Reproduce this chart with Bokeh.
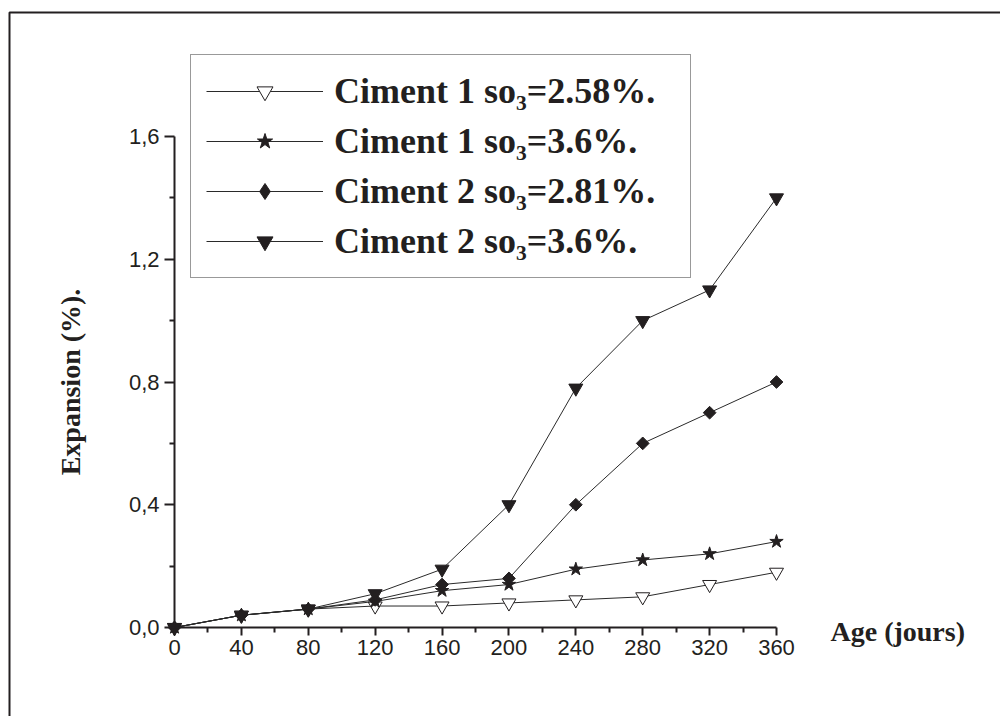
import numpy as np
from bokeh.plotting import figure
from bokeh.models import (Range1d, FixedTicker, Legend, LegendItem, Label,
                          BoxAnnotation)
from bokeh.embed import file_html
from bokeh.resources import INLINE

# ---- data ----
ages = [0, 40, 80, 120, 160, 200, 240, 280, 320, 360]
ciment1_so3_258 = [0.0, 0.04, 0.06, 0.07, 0.07, 0.08, 0.09, 0.10, 0.14, 0.18]
ciment1_so3_36 = [0.0, 0.04, 0.06, 0.085, 0.12, 0.14, 0.19, 0.22, 0.24, 0.28]
ciment2_so3_281 = [0.0, 0.04, 0.06, 0.09, 0.14, 0.16, 0.40, 0.60, 0.70, 0.80]
ciment2_so3_36 = [0.0, 0.04, 0.06, 0.11, 0.19, 0.40, 0.78, 1.00, 1.10, 1.40]

series_labels = ["Ciment 1 so\u2083=2.58%.", "Ciment 1 so\u2083=3.6%.",
                 "Ciment 2 so\u2083=2.81%.", "Ciment 2 so\u2083=3.6%."]

x_ticks = [0, 40, 80, 120, 160, 200, 240, 280, 320, 360]
x_minor = [20, 60, 100, 140, 180, 220, 260, 300, 340]
y_ticks = [0.0, 0.4, 0.8, 1.2, 1.6]
y_minor = [0.2, 0.6, 1.0, 1.4]
y_tick_labels = ["0,0", "0,4", "0,8", "1,2", "1,6"]

x_title = "Age (jours)"
y_title = "Expansion (%)."

INK = "#231f20"
LINE = "#2a2a2a"

# ---- layout: the plotting frame covers the whole canvas, axes are pinned
W, H = 1000, 716
AX_LEFT, AX_RIGHT, AX_BOTTOM, AX_TOP = 174, 776, 627, 136   # pixel positions of axes
SX = (AX_RIGHT - AX_LEFT) / (x_ticks[-1] - x_ticks[0])
SY = (AX_BOTTOM - AX_TOP) / (y_ticks[-1] - y_ticks[0])


def px_x(px):
    return (px - AX_LEFT) / SX


def px_y(py):
    return (AX_BOTTOM - py) / SY


p = figure(width=W, height=H, output_backend="svg", toolbar_location=None,
           x_range=Range1d(px_x(0), px_x(W)), y_range=Range1d(px_y(H), px_y(0)),
           min_border_left=0, min_border_right=0,
           min_border_top=0, min_border_bottom=0)
p.grid.visible = False
p.outline_line_color = None
p.background_fill_color = "white"
p.border_fill_color = "white"

# axes
for ax in (p.xaxis[0], p.yaxis[0]):
    ax.fixed_location = 0
    ax.axis_line_color = INK
    ax.axis_line_width = 2
    ax.major_tick_line_color = INK
    ax.major_tick_line_width = 2
    ax.minor_tick_line_color = INK
    ax.minor_tick_line_width = 2
    ax.major_tick_in = 0
    ax.minor_tick_in = 0
    ax.major_label_text_font = "Liberation Sans"
    ax.major_label_text_font_size = "22px"
    ax.major_label_text_color = INK

xa = p.xaxis[0]
xa.ticker = FixedTicker(ticks=x_ticks, minor_ticks=x_minor)
xa.bounds = (x_ticks[0], x_ticks[-1])
xa.major_tick_out = 8
xa.minor_tick_out = 5
xa.major_label_standoff = 4

ya = p.yaxis[0]
ya.ticker = FixedTicker(ticks=y_ticks, minor_ticks=y_minor)
ya.bounds = (y_ticks[0], y_ticks[-1])
ya.major_tick_out = 10
ya.minor_tick_out = 5
ya.major_label_standoff = 5
ya.major_label_overrides = {t: s for t, s in zip(y_ticks, y_tick_labels)}

# series: (values, plot marker, size, angle, fill, legend marker, legend size)
specs = [
    (ciment1_so3_258, "inverted_triangle", 14, 0, "white", "inverted_triangle", 14),
    (ciment1_so3_36, "star", 14, 0, INK, "star", 14),
    (ciment2_so3_281, "square", 9, np.pi / 4, INK, "diamond", 16),
    (ciment2_so3_36, "inverted_triangle", 14, 0, INK, "inverted_triangle", 14),
]
items = []
for (vals, marker, size, ang, fill, lmarker, lsize), lab in zip(specs, series_labels):
    ln = p.line(ages, vals, line_color=LINE, line_width=1)
    sc = p.scatter(ages, vals, marker=marker, size=size, angle=ang,
                   fill_color=fill, line_color=INK, line_width=1)
    if lmarker == marker:
        key = sc
    else:
        # same points, only used to draw the legend swatch (hidden in the plot)
        key = p.scatter(ages, vals, marker=lmarker, size=lsize,
                        fill_color=fill, line_color=INK, line_width=1,
                        visible=False)
    items.append(LegendItem(label=lab, renderers=[ln, key]))

legend = Legend(items=items, location=(190, H - 278), orientation="vertical",
                glyph_width=117, glyph_height=40, label_height=40,
                label_width=341, spacing=8, padding=15, margin=0,
                label_standoff=11,
                label_text_font="Liberation Serif",
                label_text_font_style="bold",
                label_text_font_size="36px",
                label_text_color=INK,
                border_line_color="#333333", border_line_width=1.5,
                background_fill_color="white", background_fill_alpha=1.0)
p.add_layout(legend)

# axis titles
p.add_layout(Label(x=px_x(830), y=px_y(631), text=x_title,
                   text_font="Liberation Serif", text_font_style="bold",
                   text_font_size="28px", text_color=INK,
                   text_align="left", text_baseline="alphabetic"))
p.add_layout(Label(x=px_x(70), y=px_y((AX_TOP + AX_BOTTOM) / 2), text=y_title,
                   angle=np.pi / 2,
                   text_font="Liberation Serif", text_font_style="bold",
                   text_font_size="28px", text_color=INK,
                   text_align="center", text_baseline="alphabetic"))

# page frame (top and left edges visible)
p.add_layout(BoxAnnotation(left=px_x(9), top=px_y(12),
                           right=px_x(W + 50), bottom=px_y(H + 50),
                           fill_alpha=0, line_color=INK, line_alpha=1.0,
                           line_width=2))

open("out.html", "w").write(file_html(p, INLINE))
